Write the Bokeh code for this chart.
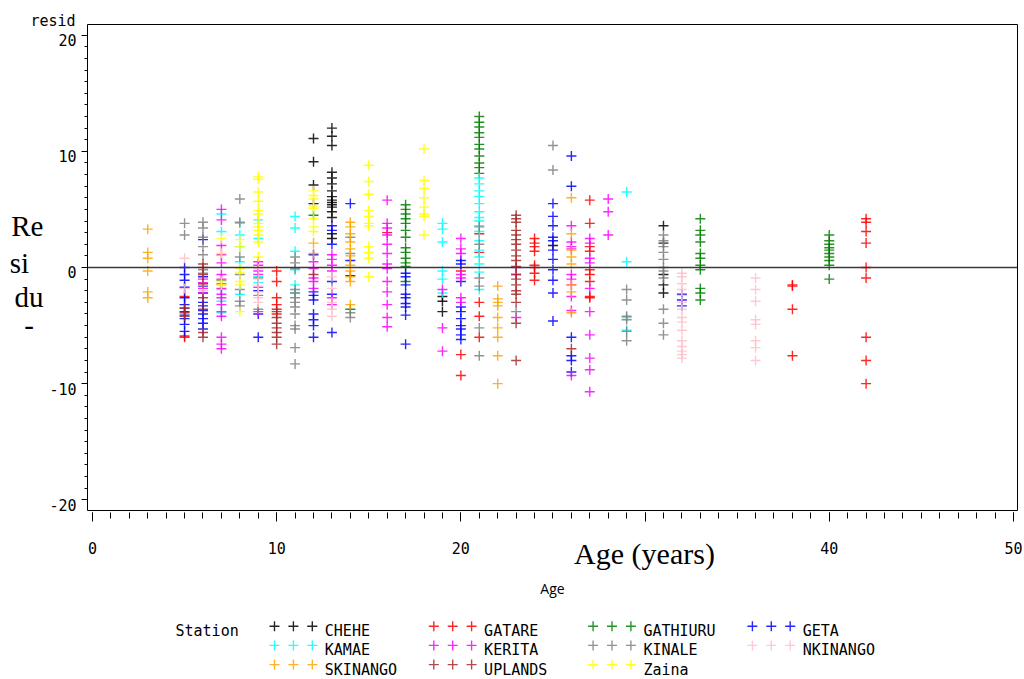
from bokeh.plotting import figure
from bokeh.models import Range1d, Span, FixedTicker, ColumnDataSource, LinearAxis, Title
from bokeh.layouts import column
from bokeh.core.properties import value
from bokeh.embed import file_html
from bokeh.resources import INLINE

# ---------------- data (age -> residuals) ----------------
STATIONS = ["CHEHE", "GATARE", "GATHIURU", "GETA", "KAMAE", "KERITA",
            "KINALE", "NKINANGO", "SKINANGO", "UPLANDS", "Zaina"]
COLORS = ["#000000", "#FF0000", "#008000", "#0000FF", "#00FFFF", "#FF00FF",
          "#808080", "#FFC0CB", "#FFA500", "#A52A2A", "#FFFF00"]

CHEHE = {12: [11.1, 9.1, 7.1, 5.5],
         13: [12.0, 11.3, 10.5, 8.2, 7.7, 7.2, 6.6, 6.1, 5.8, 5.6, 5.4, 5.2, 4.8, 4.3, 2.9, 2.5],
         19: [-2.5, -2.9, -3.8],
         25: [1.9],
         31: [3.6, 2.1, -0.6, -1.5, -2.2]}
GATARE = {5: [-2.5, -5.9, -6.0],
          10: [-0.3, -1.2, -2.6, -3.2, -3.6, -4.0],
          16: [3.0],
          20: [-0.3, -7.5, -9.3],
          21: [2.9, 1.3, -3.0, -4.2, -6.0],
          24: [2.5, 2.1, 1.8, 1.4, 0.2, 0.0, -0.5, -1.1],
          27: [5.8, 3.8, 1.8, 1.4, -0.2, -0.6, -1.2, -2.5, -2.6],
          38: [-1.5, -1.6, -3.6, -7.6],
          42: [4.2, 3.9, 3.1, 2.1, 0.0, -0.9, -6.0, -8.0, -10.0]}
GATHIURU = {12: [4.5],
            14: [-3.6],
            17: [5.4, 5.0, 4.6, 4.2, 3.8, 3.2, 2.6, 1.7, 1.3, 0.8, 0.4, 0.1, -1.2],
            21: [13.0, 12.5, 12.1, 11.6, 11.2, 10.6, 10.2, 9.6, 9.0, 8.6, 8.1],
            33: [4.2, 3.2, 2.8, 2.2, 1.2, 0.8, 0.2, -0.2, -1.8, -2.2, -2.8],
            40: [2.8, 2.3, 2.0, 1.7, 1.5, 1.2, 0.9, 0.6, 0.2, -1.0]}
GETA = {5: [0.0, -0.6, -1.1, -1.7, -2.6, -3.2, -3.5, -3.8, -4.1, -4.4, -4.9, -5.5],
        6: [2.4, -0.8, -1.6, -2.2, -3.0, -3.3, -3.7, -4.0, -4.4, -4.8, -5.3],
        9: [-2.0, -4.0, -6.0],
        12: [1.1, -2.1, -2.4, -2.8, -4.0, -4.5, -5.0, -6.0],
        13: [3.6, 3.2, 2.0, -1.2, -2.3, -5.6],
        14: [5.5, 0.6, -0.7],
        17: [-0.5, -0.8, -1.5, -2.3, -2.6, -3.1, -3.4, -4.1, -6.6],
        20: [0.6, 0.3, -1.2, -3.4, -3.8, -4.4, -5.0, -5.3, -5.8, -6.2],
        25: [5.5, 4.4, 3.6, 2.6, 2.3, 1.5, 0.7, -0.2, -1.1, -2.2, -4.6],
        26: [9.6, 7.0, -6.0, -7.6, -8.0, -9.0],
        32: [-2.3, -2.8, -3.3]}
KAMAE = {7: [4.6, 3.1, -1.9, -2.9, -3.9],
         8: [3.8, 2.8, 1.8, 0.5, -2.3],
         9: [4.1, 2.5, -0.8, -1.3],
         11: [4.4, 3.4, 1.4, -0.2, -1.5, -2.2],
         19: [3.8, 3.3, 2.2, -0.3, -1.0, -2.2],
         21: [7.7, 7.2, 6.6, 6.1, 5.5, 4.8, 4.3, 4.0, 3.6, 3.1, 2.3, 1.5, 0.9, 0.3, -0.4, -1.9],
         29: [6.5, 0.5, -4.3, -5.4]}
KERITA = {6: [-1.0, -1.3, -1.8, -2.2],
          7: [5.0, 4.1, 1.9, 1.1, 0.4, -0.6, -1.0, -1.8, -2.3, -2.6, -3.2, -3.8, -4.2, -6.0, -6.6, -7.0],
          9: [0.5, 0.2, -0.3, -0.6, -1.7, -3.8],
          12: [0.5, -0.1, -0.9, -1.2, -1.8],
          13: [1.1, 0.7, 0.2, -0.3, -2.6, -3.2],
          16: [5.8, 3.8, 3.4, 2.8, 2.0, 1.2, 0.3, -0.1, -1.2, -2.1, -3.2, -4.3, -5.1],
          19: [-1.9, -5.2, -7.2],
          20: [2.5, 1.6, 1.2, -0.6, -0.9, -2.6, -3.0],
          23: [0.0, -0.6, -4.3],
          26: [3.6, 2.2, 1.8, 1.6, -0.6, -1.0, -1.5, -2.5, -3.7, -9.3],
          27: [2.5, 2.1, 0.8, 0.4, -1.8, -3.8, -5.8, -7.8, -8.8, -10.7],
          28: [5.9, 4.8, 2.8]}
KINALE = {5: [3.8, 2.8],
          6: [3.9, 3.4, 2.6, 1.8, 1.1, -0.2, -0.5],
          7: [-1.1, -1.4],
          8: [5.9, 3.9, 0.9, -0.6, -1.9, -2.9, -3.3],
          9: [-0.9, -2.4, -3.6],
          11: [0.9, 0.4, -0.1, -1.9, -2.2, -2.6, -3.0, -3.4, -4.0, -5.0, -5.3, -6.9, -8.3],
          14: [2.6, 1.2, -3.9, -4.3],
          21: [3.5, 2.0, -0.9, -1.6, -5.2, -7.6],
          23: [-3.8],
          25: [10.5, 8.4],
          29: [-1.9, -2.8, -4.2, -4.5, -5.5, -6.3],
          31: [2.8, 2.3, 1.8, 1.3, 0.7, 0.0, -0.3, -0.9, -3.6, -4.8, -5.8]}
NKINANGO = {5: [0.8, -1.8],
            6: [-1.5, -2.0],
            9: [-0.1, -1.0, -1.6, -2.1, -2.6, -3.0],
            13: [-0.8, -1.8, -3.0, -3.6, -4.2],
            32: [-0.5, -0.8, -1.4, -1.9, -2.4, -3.0, -3.6, -4.3, -4.7, -5.4, -6.3, -6.8, -7.2, -7.5, -7.8],
            36: [-0.9, -1.9, -2.9, -4.5, -4.9, -6.3, -6.9, -8.0]}
SKINANGO = {3: [3.3, 1.3, 0.8, -0.3, -2.1, -2.6],
            7: [-1.5],
            12: [2.1, 1.2],
            14: [3.9, 3.5, 2.9, 2.2, 1.6, 1.0, 0.2, -0.3, -0.8, -1.2, -3.2],
            22: [-1.6, -2.7, -3.0, -3.3, -4.3, -5.2, -6.0, -7.6, -10.0],
            26: [6.0, 2.9, 1.5, 0.9, 0.3, -1.5, -2.1, -3.9]}
UPLANDS = {5: [-3.5, -3.9, -4.2],
           6: [0.3, 0.0, -0.6, -1.4, -2.6, -3.6, -5.6, -6.0],
           10: [-3.8, -4.3, -4.8, -5.2, -5.6, -6.0, -6.6],
           12: [-0.6],
           23: [4.5, 4.2, 3.9, 3.2, 2.8, 2.4, 2.0, 1.5, 1.0, 0.6, 0.1, -0.6, -1.0, -1.5, -2.0, -2.3, -3.0, -4.8, -8.0],
           26: [-7.0]}
ZAINA = {7: [2.5, 1.2, -1.2, -1.5],
         8: [2.4, 1.8, -0.1, -0.4, -1.2, -1.5, -3.8],
         9: [7.8, 7.6, 6.5, 5.7, 4.9, 4.6, 3.8, 3.5, 3.2, 2.8, 2.2, 0.9],
         12: [6.6, 6.2, 5.9, 5.3, 5.1, 4.2, 3.5, 3.1],
         15: [8.8, 7.4, 6.3, 4.9, 4.4, 3.8, 3.6, 1.8, 1.3, 0.8, -0.8],
         18: [10.2, 7.5, 6.8, 6.0, 5.2, 4.6, 4.4, 2.8]}

DATA = [CHEHE, GATARE, GATHIURU, GETA, KAMAE, KERITA, KINALE, NKINANGO,
        SKINANGO, UPLANDS, ZAINA]

X_TICKS = [0, 10, 20, 30, 40, 50]
X_HIDDEN = [30]          # this tick label is covered by "Age (years)" in the reference
Y_TICKS = [-20, -10, 0, 10, 20]

# ---------------- layout (page pixels; the page has no body margin) ----------------
W = 1024
H_MAIN = 600
H_LEG = 79
FL, FR, FT, FB = 87, 1017, 24, 515
XR = (-0.27, 50.22)
YR = (-20.92, 20.92)
MONO = "DejaVu Sans Mono"
SERIF = "Liberation Serif"


def py_of(v):
    return FT + (YR[1] - v) * (FB - FT) / (YR[1] - YR[0])


p = figure(width=W, height=H_MAIN, x_range=Range1d(*XR), y_range=Range1d(*YR),
           output_backend="svg", toolbar_location=None, title=None,
           min_border_left=FL, min_border_right=W - FR,
           min_border_top=FT, min_border_bottom=H_MAIN - FB)
p.grid.visible = False
p.outline_line_color = "black"
p.outline_line_width = 1
p.background_fill_color = "white"
p.border_fill_color = "white"
p.extra_x_ranges = {"px": Range1d(start=FL, end=FR)}
p.extra_y_ranges = {"py": Range1d(start=FB, end=FT)}

xa = p.xaxis[0]
ya = p.yaxis[0]
xa.ticker = FixedTicker(ticks=X_TICKS, minor_ticks=list(range(0, 51)))
ya.ticker = FixedTicker(ticks=Y_TICKS, minor_ticks=list(range(-20, 21)))
for ax in (xa, ya):
    ax.axis_line_color = None
    ax.major_tick_line_color = "black"
    ax.minor_tick_line_color = "black"
xa.major_label_text_font = MONO
xa.major_label_text_font_size = "15px"
xa.major_label_text_color = "black"
xa.major_label_overrides = {v: "" for v in X_HIDDEN}
xa.major_tick_in = -2
xa.major_tick_out = 11
xa.minor_tick_in = -2
xa.minor_tick_out = 8
xa.major_label_standoff = 20

ya.major_tick_in = 0
ya.major_tick_out = 6
ya.minor_tick_in = 0
ya.minor_tick_out = 3
ya.major_label_standoff = 0
ya.major_label_text_font_size = "0px"
ya.major_label_overrides = {v: "" for v in Y_TICKS}

# y tick labels, set slightly below their ticks as in the reference
lab_pos = [int(round(py_of(v) + 5)) for v in Y_TICKS]
y_lab = LinearAxis(y_range_name="py",
                   ticker=FixedTicker(ticks=lab_pos, minor_ticks=[]),
                   major_label_overrides={t: str(v) for t, v in zip(lab_pos, Y_TICKS)},
                   axis_line_color=None, major_tick_line_color=None,
                   minor_tick_line_color=None, major_tick_in=0, major_tick_out=0,
                   minor_tick_in=0, minor_tick_out=0, major_label_standoff=5,
                   major_label_text_font=MONO, major_label_text_font_size="15px",
                   major_label_text_color="black")
p.add_layout(y_lab, "left")

# the clipped "Residual" words on the left
LEFT_WORDS = ["Re", "si\u2002", "du", "-\u2004"]
LEFT_POS = [228, 265, 299, 328]
y_words = LinearAxis(y_range_name="py",
                     ticker=FixedTicker(ticks=LEFT_POS, minor_ticks=[]),
                     major_label_overrides=dict(zip(LEFT_POS, LEFT_WORDS)),
                     axis_line_color=None, major_tick_line_color=None,
                     minor_tick_line_color=None, major_tick_in=0, major_tick_out=0,
                     minor_tick_in=0, minor_tick_out=0, major_label_standoff=3,
                     major_label_text_font=SERIF, major_label_text_font_size="29px",
                     major_label_text_color="black")
p.add_layout(y_words, "left")

# "Age (years)" and the small "Age" axis title
x_words = LinearAxis(x_range_name="px",
                     ticker=FixedTicker(ticks=[644], minor_ticks=[]),
                     major_label_overrides={644: "Age (years)"},
                     axis_line_color=None, major_tick_line_color=None,
                     minor_tick_line_color=None, major_tick_in=0, major_tick_out=0,
                     minor_tick_in=0, minor_tick_out=0, major_label_standoff=-20,
                     major_label_text_font=SERIF, major_label_text_font_size="30px",
                     major_label_text_color="black",
                     axis_label="Age", axis_label_text_font="Open Sans",
                     axis_label_text_font_size="14px", axis_label_text_font_style="normal",
                     axis_label_text_color="black", axis_label_standoff=6)
p.add_layout(x_words, "below")

p.add_layout(Title(text="resid", align="left", offset=-57, standoff=-10,
                   vertical_align="bottom", text_font=MONO, text_font_size="15px",
                   text_font_style="normal", text_color="black"), "above")

p.add_layout(Span(location=0, dimension="width", line_color="#3a3a3a", line_width=1.6))

for name, color, d in zip(STATIONS, COLORS, DATA):
    xs, ys = [], []
    for age, vals in d.items():
        for v in vals:
            xs.append(age)
            ys.append(v)
    src = ColumnDataSource(dict(x=xs, y=ys))
    p.scatter("x", "y", source=src, marker="cross", size=10, line_color=color,
              line_width=1.4, line_alpha=0.85)

# ---------------- legend panel (coordinates in page pixels) ----------------
TOP = H_MAIN
lg = figure(width=W, height=H_LEG, x_range=Range1d(FL, FR),
            y_range=Range1d(TOP + H_LEG, TOP), title=None,
            output_backend="svg", toolbar_location=None, min_border=0,
            x_axis_type=None, y_axis_type=None)
lg.grid.visible = False
lg.outline_line_color = None
lg.background_fill_color = "white"
lg.border_fill_color = "white"

mx, my, mc = [], [], []
tx, ty, tt = [], [], []
for i, (name, color) in enumerate(zip(STATIONS, COLORS)):
    row, col = divmod(i, 4)
    for k in range(3):
        mx.append(274 + 159.3 * col + 18.9 * k)
        my.append(625.7 + 19.2 * row)
        mc.append(color)
    tx.append(324.3 + 159.3 * col)
    ty.append(630.7 + 19.2 * row)
    tt.append(name)
lg.scatter(x=mx, y=my, marker="cross", size=10, line_color=mc, line_width=1.4,
           line_alpha=0.85)
lg.text(x=tx, y=ty, text=tt, text_font=value(MONO), text_font_size="15px",
        text_align="left", text_baseline="middle", text_color="black")
lg.text(x=[175], y=[630.7], text=["Station"], text_font=value(MONO),
        text_font_size="15px", text_align="left", text_baseline="middle",
        text_color="black")

layout = column(p, lg, spacing=0)
open("out.html", "w").write(file_html(layout, INLINE))
